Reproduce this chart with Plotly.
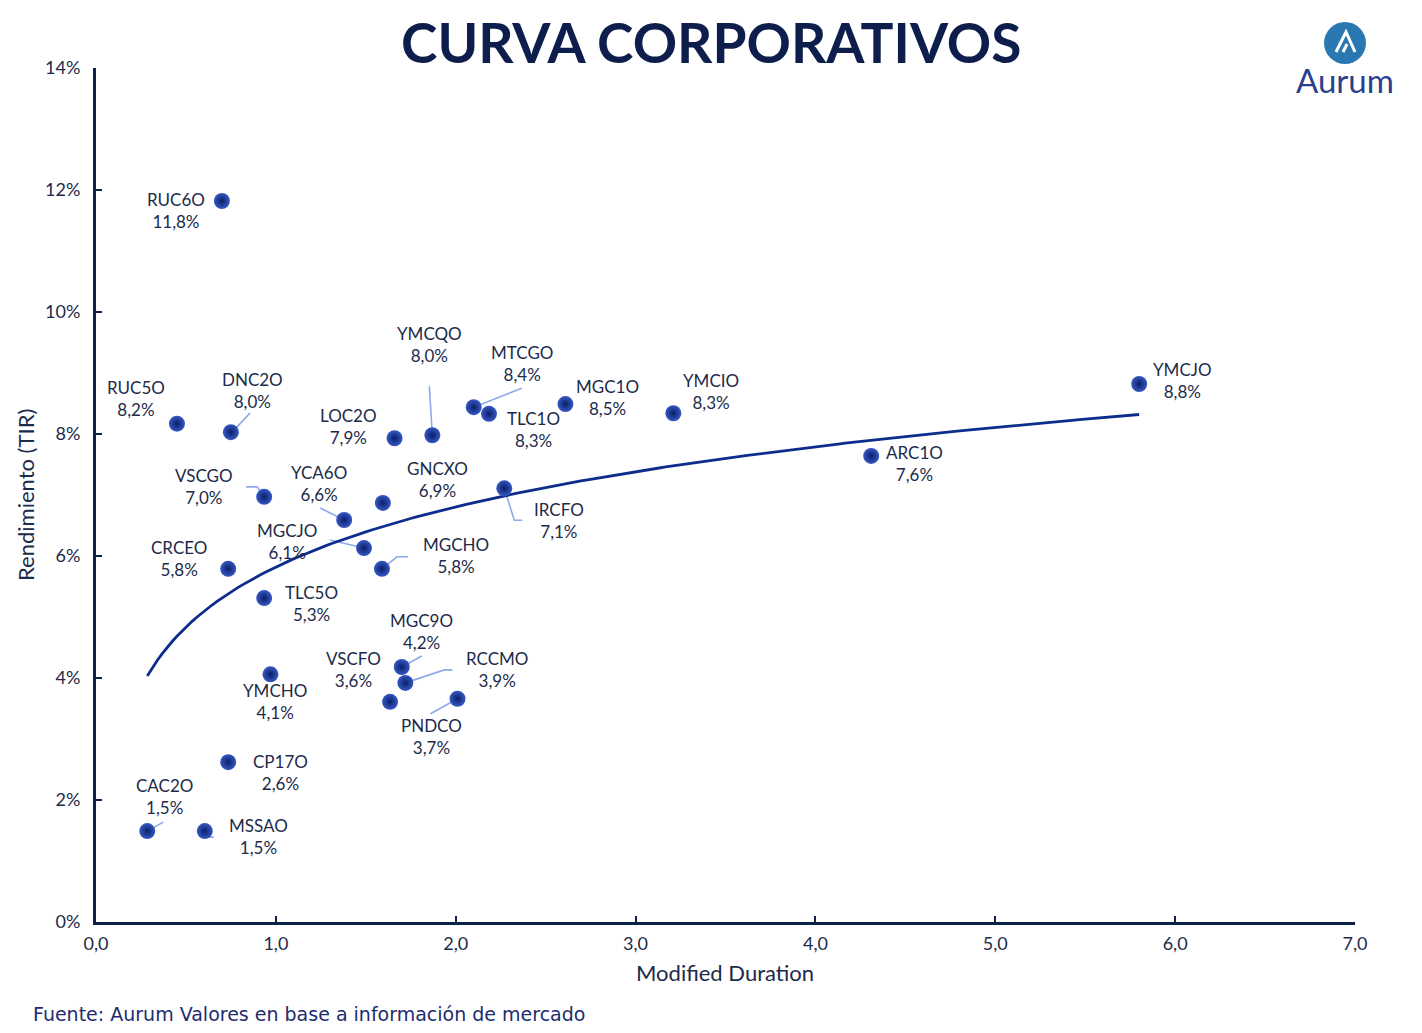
import numpy as np
import plotly.graph_objects as go

# ---------------- data ----------------
bonds = ["RUC6O", "RUC5O", "DNC2O", "LOC2O", "YMCQO", "MTCGO", "TLC1O", "MGC1O",
         "YMCIO", "YMCJO", "ARC1O", "VSCGO", "YCA6O", "GNCXO", "IRCFO", "MGCJO",
         "MGCHO", "CRCEO", "TLC5O", "MGC9O", "RCCMO", "VSCFO", "PNDCO", "YMCHO",
         "CP17O", "CAC2O", "MSSAO"]
duration = [0.70, 0.45, 0.75, 1.66, 1.87, 2.10, 2.185, 2.61,
            3.21, 5.80, 4.31, 0.935, 1.38, 1.595, 2.27, 1.49,
            1.59, 0.735, 0.935, 1.70, 1.72, 1.635, 2.01, 0.97,
            0.735, 0.285, 0.605]
tir = [11.82, 8.17, 8.03, 7.93, 7.98, 8.44, 8.33, 8.49,
       8.34, 8.82, 7.64, 6.97, 6.59, 6.87, 7.11, 6.13,
       5.79, 5.79, 5.31, 4.18, 3.92, 3.61, 3.66, 4.06,
       2.62, 1.49, 1.49]
y_ticks = [0, 2, 4, 6, 8, 10, 12, 14]
y_ticktext = [f"{v}%" for v in y_ticks]
x_ticks = [0, 1, 2, 3, 4, 5, 6, 7]

# ---------------- label layout (screen px, y down) ----------------
label_off = {
    "RUC6O": (-46, 10), "RUC5O": (-41, -25), "DNC2O": (22, -42), "LOC2O": (-46, -12),
    "YMCQO": (-3, -91), "MTCGO": (48, -44), "TLC1O": (45, 16), "MGC1O": (42, -7),
    "YMCIO": (38, -22), "YMCJO": (43, -3), "ARC1O": (43, 8), "VSCGO": (-60, -10),
    "YCA6O": (-25, -37), "GNCXO": (55, -23), "IRCFO": (55, 32), "MGCJO": (-77, -7),
    "MGCHO": (74, -13), "CRCEO": (-49, -10), "TLC5O": (47, 5), "MGC9O": (20, -36),
    "RCCMO": (92, -13), "VSCFO": (-37, -32), "PNDCO": (-26, 38), "YMCHO": (5, 27),
    "CP17O": (52, 10), "CAC2O": (17, -35), "MSSAO": (54, 5),
}
leaders = {
    "DNC2O": [(5, -4), (19, -19)],
    "YMCQO": [(-3, -49), (0, 0)],
    "MTCGO": [(48, -19), (0, 0)],
    "VSCGO": [(-18, -10), (-7, -10), (0, 0)],
    "YCA6O": [(-24, -12), (0, 0)],
    "IRCFO": [(0, 0), (10, 32), (18, 32)],
    "MGCJO": [(-34, -8), (0, 0)],
    "MGCHO": [(0, 0), (15, -12), (26, -12)],
    "MGC9O": [(0, 0), (20, -11)],
    "RCCMO": [(0, 0), (39, -13), (47, -13)],
    "PNDCO": [(0, 0), (-27, 15)],
    "CAC2O": [(0, 0), (16, -9)],
    "MSSAO": [(0, 0), (2, 6), (9, 6)],
}

NAVY = "#0b2148"
TXT = "#1c2b4b"
FONT = "Lato"

# log trendline fitted to the data (as the spreadsheet trendline)
lx = np.log(np.array(duration))
b, a = np.polyfit(lx, np.array(tir), 1)
xt = np.linspace(min(duration), max(duration), 200)
yt = a + b * np.log(xt)

fig = go.Figure()
fig.add_trace(go.Scatter(x=xt, y=yt, mode="lines",
                         line=dict(color="#0d2d8c", width=2.8),
                         hoverinfo="skip", showlegend=False))
fig.add_trace(go.Scatter(
    x=duration, y=tir, mode="markers", text=bonds,
    marker=dict(size=16, color="#3658c4",
                gradient=dict(type="radial", color="#0a1f68"),
                line=dict(width=0)),
    showlegend=False, hovertemplate="%{text}: %{x:.2f}, %{y:.1f}%<extra></extra>"))

annotations = []
shapes = []
for name, x, y in zip(bonds, duration, tir):
    dx, dy = label_off[name]
    annotations.append(dict(
        x=x, y=y, xref="x", yref="y", xshift=dx, yshift=-dy,
        text=name + "<br>" + f"{y:.1f}%".replace(".", ","), showarrow=False,
        font=dict(family=FONT, size=17, color=TXT), align="center", borderpad=0,
        xanchor="center", yanchor="middle"))
    if name in leaders:
        pts = leaders[name]
        path = "M " + " L ".join(f"{px},{-py}" for px, py in pts)
        shapes.append(dict(type="path", xref="x", yref="y",
                           xsizemode="pixel", ysizemode="pixel",
                           xanchor=x, yanchor=y, path=path,
                           line=dict(color="#8eaaea", width=1.6), layer="below"))

PL, PR, PT, PB = 96, 1355, 68, 922
def px2paper(px, py):
    return (px - PL) / (PR - PL), (PB - py) / (PB - PT)

def add_text(text, px, py, size, color, family=FONT, xanchor="center", **kw):
    ex, ey = px2paper(px, py)
    annotations.append(dict(text=text, x=ex, y=ey, xref="paper", yref="paper",
                            xanchor=xanchor, yanchor="middle", showarrow=False,
                            font=dict(family=family, size=size, color=color,
                                      **kw.pop("fontkw", {})), **kw))

add_text("CURVA CORPORATIVOS", 711, 42, 55, "#0d1e4c", fontkw=dict(weight=700))
add_text("Fuente: Aurum Valores en base a información de mercado", 31, 1014, 19,
         "#1e2d6e", family="DejaVu Sans", xanchor="left")
add_text("Aurum", 1345, 80, 33, "#2b3f8e")
add_text("Modified Duration", 725, 972, 22, TXT)
add_text("Rendimiento (TIR)", 25, 495, 22, TXT, textangle=-90)

cx, cy = px2paper(1345, 43)
shapes.append(dict(type="circle", xref="paper", yref="paper",
                   xsizemode="pixel", ysizemode="pixel", xanchor=cx, yanchor=cy,
                   x0=-21, x1=21, y0=-21, y1=21,
                   fillcolor="#2a78b2", line=dict(width=0)))
shapes.append(dict(type="path", xref="paper", yref="paper",
                   xsizemode="pixel", ysizemode="pixel", xanchor=cx, yanchor=cy,
                   path="M -9,-9 L 1,11 L 10,-9 M -2,-9 L 2,-1",
                   line=dict(color="white", width=3)))

fig.update_layout(
    width=1422, height=1033, autosize=False,
    margin=dict(l=PL, r=1422 - PR, t=PT, b=1033 - PB),
    paper_bgcolor="white", plot_bgcolor="white",
    separators=",.",
    font=dict(family=FONT, color=TXT),
    annotations=annotations, shapes=shapes,
    xaxis=dict(range=[0, 7], tickvals=x_ticks, tickformat=".1f", automargin=False,
               showgrid=False, zeroline=False, showline=True, linecolor=NAVY,
               linewidth=3, ticks="inside", ticklen=6, tickwidth=2, tickcolor=NAVY,
               tickfont=dict(size=18, color=TXT), ticklabelstandoff=3),
    yaxis=dict(range=[0, 14], tickvals=y_ticks, ticktext=y_ticktext, automargin=False,
               showgrid=False, zeroline=False, showline=True, linecolor=NAVY,
               linewidth=3, ticks="inside", ticklen=6, tickwidth=2, tickcolor=NAVY,
               tickfont=dict(size=18, color=TXT), ticklabelstandoff=9),
)

fig.write_html("out.html")
